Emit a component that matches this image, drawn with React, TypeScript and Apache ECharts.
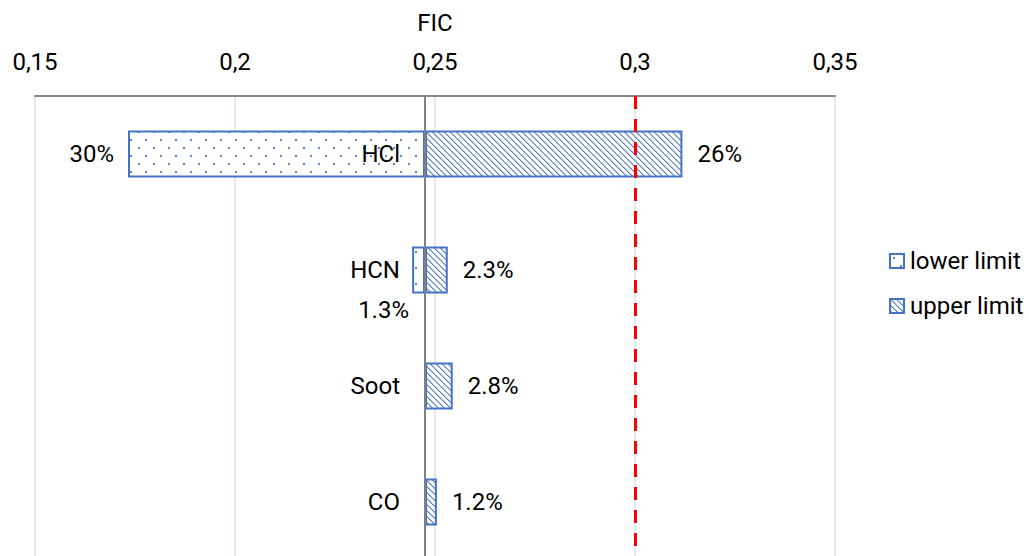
import React, { useEffect, useRef } from "react";
import * as echarts from "echarts";

const categories = ["HCl", "HCN", "Soot", "CO"];
const lowerPct = [30, 1.3, 0, 0];
const upperPct = [26, 2.3, 2.8, 1.2];
const baselineFIC = 0.2475;
const thresholdFIC = 0.3;
const axisMin = 0.15;
const axisMax = 0.35;
const axisStep = 0.05;
const seriesNames = ["lower limit", "upper limit"];

const FONT = "Roboto, 'Liberation Sans', sans-serif";
const BLUE = "#4472C4";

function makeDots(): HTMLCanvasElement {
  const c = document.createElement("canvas");
  c.width = 15;
  c.height = 16;
  const ctx = c.getContext("2d")!;
  ctx.fillStyle = "#ffffff";
  ctx.fillRect(0, 0, 15, 16);
  ctx.fillStyle = "#5F86CE";
  ctx.fillRect(3, 3, 2, 2);
  ctx.fillRect(10, 11, 2, 2);
  return c;
}

function makeHatch(): HTMLCanvasElement {
  const n = 6;
  const c = document.createElement("canvas");
  c.width = n;
  c.height = n;
  const ctx = c.getContext("2d")!;
  ctx.fillStyle = "#ffffff";
  ctx.fillRect(0, 0, n, n);
  for (let y = 0; y < n; y++) {
    for (let x = 0; x < n; x++) {
      const d = (((x - y) % n) + n) % n;
      if (d === 0) {
        ctx.fillStyle = "#5A82CB";
        ctx.fillRect(x, y, 1, 1);
      } else if (d === 1) {
        ctx.fillStyle = "#A8BDE5";
        ctx.fillRect(x, y, 1, 1);
      }
    }
  }
  return c;
}

const fmtPct = (v: number) => `${v}%`;

export default function App() {
  const ref = useRef<HTMLDivElement>(null);

  useEffect(() => {
    if (!ref.current) return;
    const chart = echarts.init(ref.current, undefined, { renderer: "svg" });

    const dots = makeDots();
    const hatch = makeHatch();
    const dotFill: any = { image: dots, repeat: "repeat", imageWidth: 15, imageHeight: 16 };
    const hatchFill: any = { image: hatch, repeat: "repeat", imageWidth: 6, imageHeight: 6 };

    const baseVals = lowerPct.map((p) => baselineFIC * (1 - p / 100));
    const lowerVals = lowerPct.map((p) => baselineFIC * (p / 100));
    const upperVals = upperPct.map((p) => baselineFIC * (p / 100));

    const labelStyle = { color: "#000", fontSize: 24, fontFamily: FONT };

    const lowerData = lowerVals.map((v, i) => {
      if (lowerPct[i] <= 0) {
        return { value: v, itemStyle: { borderWidth: 0 }, label: { show: false } };
      }
      if (i === 1) {
        return { value: v, label: { show: true, position: "bottom", distance: 4, offset: [-35, 0] } };
      }
      return { value: v };
    });

    chart.setOption({
      animation: false,
      backgroundColor: "#ffffff",
      grid: {
        left: 35,
        right: 194,
        top: 96,
        bottom: -4,
        containLabel: false,
        outerBoundsMode: "none",
      },
      legend: {
        data: seriesNames,
        orient: "vertical",
        left: 884,
        top: 244,
        itemWidth: 14,
        itemHeight: 14,
        itemGap: 21,
        textStyle: { color: "#000", fontSize: 24, fontFamily: FONT, padding: [0, 0, 0, 1] },
        icon: "rect",
      },
      xAxis: {
        type: "value",
        position: "top",
        min: axisMin,
        max: axisMax,
        interval: axisStep,
        name: "FIC",
        nameLocation: "middle",
        nameGap: 61,
        nameTextStyle: { color: "#000", fontSize: 24, fontFamily: FONT },
        axisLine: { show: true, lineStyle: { color: "#888888", width: 2 } },
        axisTick: { show: false },
        axisLabel: {
          color: "#000",
          fontSize: 24,
          fontFamily: FONT,
          margin: 22,
          formatter: (v: number) => String(+v.toFixed(3)).replace(".", ","),
        },
        splitLine: { show: true, lineStyle: { color: "#DAE3F3", width: 1.5 } },
      },
      yAxis: {
        type: "category",
        data: categories,
        inverse: true,
        position: "left",
        offset: -390,
        z: 10,
        axisLine: { show: false },
        axisTick: { show: false },
        splitLine: { show: false },
        axisLabel: {
          color: "#000",
          fontSize: 24,
          fontFamily: FONT,
          margin: 25,
        },
      },
      series: [
        {
          name: "base",
          type: "bar",
          stack: "t",
          barWidth: 47,
          silent: true,
          itemStyle: { color: "transparent", borderWidth: 0 },
          data: baseVals,
          markLine: {
            silent: true,
            precision: 6,
            symbol: ["none", "none"],
            label: { show: false },
            z: 5,
            data: [
              { xAxis: baselineFIC, lineStyle: { color: "#808080", width: 2, type: "solid" } },
              { xAxis: thresholdFIC, lineStyle: { color: "#FF0000", width: 3, type: [13, 10] } },
            ],
          },
          z: 1,
        },
        {
          name: seriesNames[0],
          type: "bar",
          stack: "t",
          barWidth: 47,
          itemStyle: { color: dotFill, borderColor: BLUE, borderWidth: 2 },
          label: {
            show: true,
            position: "left",
            distance: 14,
            ...labelStyle,
            formatter: (p: any) => fmtPct(lowerPct[p.dataIndex]),
          },
          data: lowerData,
          z: 3,
        },
        {
          name: seriesNames[1],
          type: "bar",
          stack: "t",
          barWidth: 47,
          itemStyle: { color: hatchFill, borderColor: BLUE, borderWidth: 2 },
          label: {
            show: true,
            position: "right",
            distance: 15,
            ...labelStyle,
            formatter: (p: any) => fmtPct(upperPct[p.dataIndex]),
          },
          data: upperVals,
          z: 3,
        },
      ],
    } as any);

    return () => chart.dispose();
  }, []);

  return (
    <div
      ref={ref}
      style={{ position: "fixed", left: 0, top: 0, width: 1029, height: 556, background: "#fff" }}
    />
  );
}
